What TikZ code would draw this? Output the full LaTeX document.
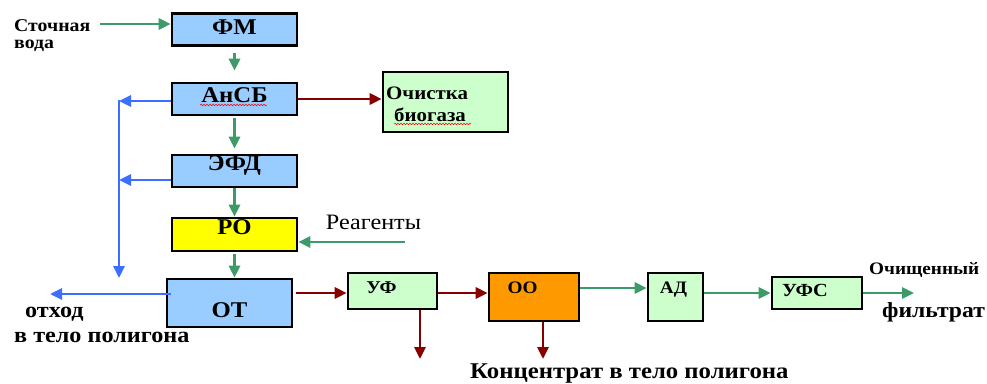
\documentclass[tikz,border=0pt]{standalone}
\usepackage{fontspec}
\setmainfont{Liberation Serif}[FakeStretch=1.1]
\usetikzlibrary{arrows.meta,decorations.pathmorphing}
\definecolor{gArr}{RGB}{60,155,105}
\definecolor{bArr}{RGB}{60,110,255}
\definecolor{rArr}{RGB}{135,0,0}
\definecolor{boxBlue}{RGB}{153,204,255}
\definecolor{boxGreen}{RGB}{204,255,204}
\definecolor{boxOrange}{RGB}{255,153,0}
\definecolor{boxYellow}{RGB}{255,255,0}
\tikzset{
  box/.style={draw=black,line width=2.6pt,inner sep=0pt},
  tip/.style={-{Triangle[length=12pt,width=11pt]}},
  garr/.style={draw=gArr,line width=2.8pt,tip},
  barr/.style={draw=bArr,line width=2.8pt,tip},
  rarr/.style={draw=rArr,line width=2.8pt,tip},
  bline/.style={draw=bArr,line width=2.8pt},
  lbl/.style={inner sep=0pt,font=\bfseries\fontsize{22.5}{24}\selectfont},
  slbl/.style={inner sep=0pt,font=\bfseries\fontsize{17.5}{19}\selectfont},
  txt/.style={inner sep=0pt,font=\bfseries\fontsize{22}{24}\selectfont},
  squig/.style={draw=red,line width=0.5pt,decorate,decoration={snake,amplitude=0.8pt,segment length=3pt}}
}
\begin{document}
\begin{tikzpicture}[x=1pt,y=-1pt]
\useasboundingbox (0,0) rectangle (987,383);
% boxes
\node[box,fill=boxBlue,minimum width=125pt,minimum height=32pt] (fm) at (234.5,29.5) {};
\node[box,fill=boxBlue,minimum width=125pt,minimum height=32pt] (ansb) at (234.5,99) {};
\node[box,fill=boxBlue,minimum width=125pt,minimum height=32pt] (efd) at (234.5,171) {};
\node[box,fill=boxYellow,minimum width=125pt,minimum height=33pt] (ro) at (234.5,234.5) {};
\node[box,fill=boxBlue,minimum width=125pt,minimum height=48pt] (ot) at (229.5,303) {};
\node[box,fill=boxGreen,minimum width=89pt,minimum height=36pt] (uf) at (392.5,291) {};
\node[box,fill=boxOrange,minimum width=90pt,minimum height=48pt] (oo) at (534,297) {};
\node[box,fill=boxGreen,minimum width=55pt,minimum height=48pt] (ad) at (675.5,297) {};
\node[box,fill=boxGreen,minimum width=90pt,minimum height=32pt] (ufs) at (817,293) {};
\node[box,fill=boxGreen,minimum width=125pt,minimum height=60pt] (och) at (445.5,102) {};
% box labels
\node[lbl] (fmT) at (234.5,27.5) {ФМ};
\node[lbl] (ansbT) at (234.5,95) {АнСБ};
\node[lbl] (efdT) at (234.5,165) {ЭФД};
\node[lbl] (roT) at (234.5,227) {РО};
\node[lbl] (otT) at (229.5,310) {ОТ};
\node[slbl,font=\bfseries\fontsize{18}{20}\selectfont] (ufT) at (381.5,288) {УФ};
\node[slbl] (ooT) at (522.5,288) {ОО};
\node[slbl] (adT) at (673.5,290) {АД};
\node[slbl,font=\bfseries\fontsize{18.5}{20}\selectfont] (ufsT) at (805,290) {УФС};
\node[lbl,anchor=west,font=\bfseries\fontsize{19}{21}\selectfont] (ochT1) at (386,93) {Очистка};
\node[lbl,anchor=west,font=\bfseries\fontsize{19}{21}\selectfont] (ochT2) at (394,115) {биогаза};
\draw[squig] (200,105) -- (267,105);
\draw[squig] (394,124) -- (471,124);
% free texts
\node[inner sep=0pt,anchor=west,font=\bfseries\fontsize{18}{20}\selectfont] (sv1) at (14,25.5) {Сточная};
\node[inner sep=0pt,anchor=west,font=\bfseries\fontsize{18}{20}\selectfont] (sv2) at (14,45.5) {вода};
\node[inner sep=0pt,font=\fontsize{22}{24}\selectfont] (reag) at (373.5,222) {Реагенты};
\node[txt,anchor=west] (otx1) at (25,314) {отход};
\node[txt,anchor=west] (otx2) at (14,337) {в тело полигона};
\node[txt,anchor=west,font=\bfseries\fontsize{22.5}{24}\selectfont] (konc) at (470,374) {Концентрат в тело полигона};
\node[slbl,anchor=west] (ochf1) at (869,270) {Очищенный};
\node[txt,anchor=west,font=\bfseries\fontsize{21.5}{23}\selectfont] (ochf2) at (882,312) {фильтрат};
% coordinates
\coordinate (svE) at (100,24);
\coordinate (reagE) at (405,242);
\coordinate (bx1) at (119,101);
\coordinate (bx2) at (119,180);
\coordinate (bxEnd) at (119,278);
\coordinate (otOut) at (50,294);
\coordinate (ufDown) at (420,359);
\coordinate (ooDown) at (543,359);
\coordinate (outE) at (914,293);
% green connectors
\draw[garr] (svE) -- (fm.west |- svE);
\draw[garr] ([yshift=-6pt]fm.south) -- ([yshift=11pt]ansb.north);
\draw[garr] ([yshift=-2pt]ansb.south) -- ([yshift=5pt]efd.north);
\draw[garr] (efd.south) -- (ro.north);
\draw[garr] ([yshift=-2pt]ro.south) -- (ot.north -| ro.south);
\draw[garr] (reagE) -- (ro.east |- reagE);
\draw[garr] (oo.east |- 0,288) -- (ad.west |- 0,288);
\draw[garr] (ad.east |- ufs.east) -- (ufs.west);
\draw[garr] (ufs.east) -- (outE);
% blue connectors
\draw[barr] (ansb.west |- bx1) -- (bx1);
\draw[barr] (efd.west |- bx2) -- (bx2);
\draw[bline] ([yshift=1.4pt]bx1) -- (bx2);
\draw[barr] (bx2) -- (bxEnd);
\draw[barr] ([xshift=5pt]ot.west |- otOut) -- (otOut);
% red connectors
\draw[rarr] (ansb.east |- 0,99) -- (och.west |- 0,99);
\draw[rarr] ([xshift=3pt]ot.east |- 0,293) -- (uf.west |- 0,293);
\draw[rarr] (uf.east |- 0,293) -- (oo.west |- 0,293);
\draw[rarr] (uf.south -| ufDown) -- (ufDown);
\draw[rarr] (oo.south -| ooDown) -- (ooDown);
\end{tikzpicture}
\end{document}
